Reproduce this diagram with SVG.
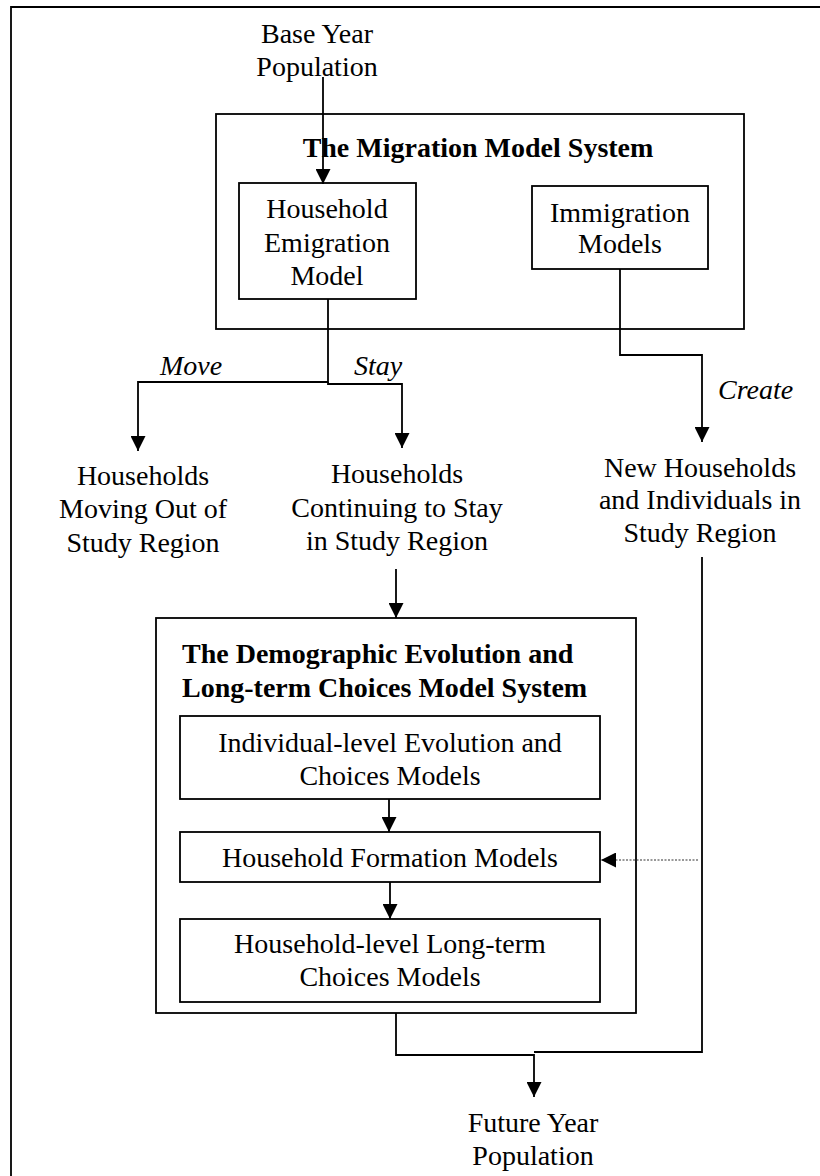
<svg xmlns="http://www.w3.org/2000/svg" width="820" height="1176" viewBox="0 0 820 1176">
<defs>
<style>
.t{font-family:"Liberation Serif","Times New Roman",serif;font-size:28px;fill:#000}
.c{text-anchor:middle}
.b{font-weight:bold}
.i{font-style:italic}
.box{fill:none;stroke:#000;stroke-width:1.8}
.ln{fill:none;stroke:#000;stroke-width:1.8}
.dot{fill:none;stroke:#333;stroke-width:1.2;stroke-dasharray:2 1.5}
</style>
<marker id="ah" markerUnits="userSpaceOnUse" markerWidth="15" markerHeight="15" refX="15" refY="7.5" orient="auto" viewBox="0 0 15 15">
<path d="M0,0 L15,7.5 L0,15 z" fill="#000"/>
</marker>
</defs>
<rect width="820" height="1176" fill="#fff"/>
<path class="ln" d="M11,1176 V7 H820" stroke-width="2"/>

<g id="base-year">
<text class="t c" x="317" y="43">Base Year</text>
<text class="t c" x="317" y="76">Population</text>
</g>

<g id="migration-system">
<rect class="box" x="216" y="114" width="528" height="215"/>
<text class="t b c" x="478" y="157">The Migration Model System</text>
</g>

<g id="household-emigration">
<rect class="box" x="239" y="183" width="177" height="116"/>
<text class="t c" x="327" y="218">Household</text>
<text class="t c" x="327" y="252">Emigration</text>
<text class="t c" x="327" y="285">Model</text>
</g>

<g id="immigration">
<rect class="box" x="532" y="186" width="176" height="83"/>
<text class="t c" x="620" y="222">Immigration</text>
<text class="t c" x="620" y="253">Models</text>
</g>

<g id="moving-out">
<text class="t c" x="143" y="485">Households</text>
<text class="t c" x="143" y="518">Moving Out of</text>
<text class="t c" x="143" y="552">Study Region</text>
</g>

<g id="continuing">
<text class="t c" x="397" y="483">Households</text>
<text class="t c" x="397" y="517">Continuing to Stay</text>
<text class="t c" x="397" y="550">in Study Region</text>
</g>

<g id="new-households">
<text class="t c" x="700" y="477">New Households</text>
<text class="t c" x="700" y="509">and Individuals in</text>
<text class="t c" x="700" y="542">Study Region</text>
</g>

<g id="demographic-system">
<rect class="box" x="156" y="618" width="480" height="395"/>
<text class="t b" x="182" y="663">The Demographic Evolution and</text>
<text class="t b" x="182" y="697">Long-term Choices Model System</text>
</g>

<g id="individual-level">
<rect class="box" x="180" y="716" width="420" height="83"/>
<text class="t c" x="390" y="752">Individual-level Evolution and</text>
<text class="t c" x="390" y="785">Choices Models</text>
</g>

<g id="household-formation">
<rect class="box" x="180" y="832" width="420" height="50"/>
<text class="t c" x="390" y="867">Household Formation Models</text>
</g>

<g id="household-level">
<rect class="box" x="180" y="919" width="420" height="83"/>
<text class="t c" x="390" y="953">Household-level Long-term</text>
<text class="t c" x="390" y="986">Choices Models</text>
</g>

<g id="future-year">
<text class="t c" x="533" y="1132">Future Year</text>
<text class="t c" x="533" y="1165">Population</text>
</g>

<g id="connectors">
<path class="ln" d="M323,77 V184" marker-end="url(#ah)"/>
<path class="ln" d="M328,299 V382 H138 V451" marker-end="url(#ah)"/>
<path class="ln" d="M328,382 V384 H402 V448" marker-end="url(#ah)"/>
<path class="ln" d="M620,269 V355 H702 V442" marker-end="url(#ah)"/>
<path class="ln" d="M396,569 V618" marker-end="url(#ah)"/>
<path class="ln" d="M389,799 V832" marker-end="url(#ah)"/>
<path class="ln" d="M390,882 V919" marker-end="url(#ah)"/>
<path class="ln" d="M396,1013 V1055 H534 V1097" marker-end="url(#ah)"/>
<path class="ln" d="M702,557 V1052 H534"/>
<path class="dot" d="M698,860 H601" marker-end="url(#ah)"/>
<text class="t i" x="160" y="375">Move</text>
<text class="t i" x="354" y="375">Stay</text>
<text class="t i" x="718" y="399">Create</text>
</g>
</svg>
